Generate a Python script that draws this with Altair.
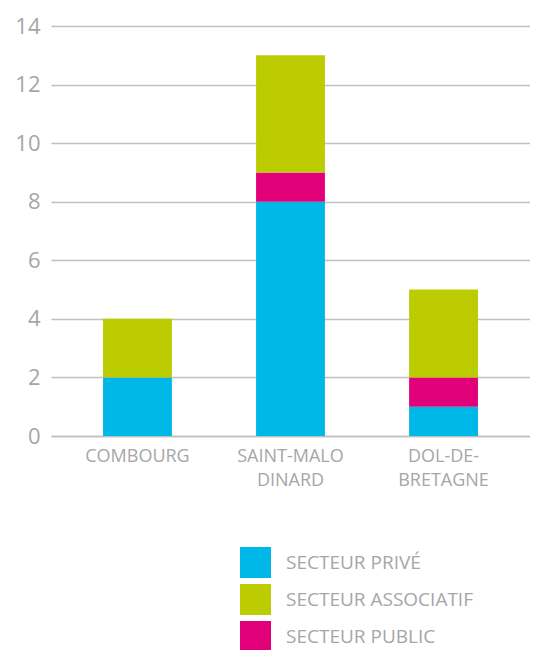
import altair as alt
import pandas as pd

categories = ["COMBOURG", "SAINT-MALO DINARD", "DOL-DE-BRETAGNE"]
prive = [2, 8, 1]
public = [0, 1, 1]
associatif = [2, 4, 3]

series = ["SECTEUR PRIVÉ", "SECTEUR ASSOCIATIF", "SECTEUR PUBLIC"]
colors = ["#00b8e8", "#bdcc00", "#e2007a"]
stack_order = {"SECTEUR PRIVÉ": 0, "SECTEUR PUBLIC": 1, "SECTEUR ASSOCIATIF": 2}

rows = []
for i, c in enumerate(categories):
    for s, vals in (("SECTEUR PRIVÉ", prive), ("SECTEUR PUBLIC", public), ("SECTEUR ASSOCIATIF", associatif)):
        rows.append({"lieu": c, "secteur": s, "valeur": vals[i], "ordre": stack_order[s]})
df = pd.DataFrame(rows)

FONT = "Open Sans"
GRAY = "#a6a6a6"

chart = alt.Chart(df).mark_bar().encode(
    x=alt.X("lieu:N", sort=categories, title=None,
            scale=alt.Scale(paddingInner=0.55, paddingOuter=0.34),
            axis=alt.Axis(labelAngle=0, labelFontSize=18, labelColor=GRAY, labelFont=FONT,
                          labelPadding=11, ticks=False, domainColor="#c0c0c0", domainWidth=1.5,
                          labelLineHeight=24,
                          labelExpr="datum.value == 'DOL-DE-BRETAGNE' ? ['DOL-DE-', 'BRETAGNE'] : split(datum.value, ' ')")),
    y=alt.Y("valeur:Q", stack="zero", title=None,
            scale=alt.Scale(domain=[0, 14], nice=False),
            axis=alt.Axis(values=[0, 2, 4, 6, 8, 10, 12, 14], labelFontSize=22, labelColor=GRAY,
                          labelFont=FONT, labelPadding=11, ticks=False, domain=False,
                          gridColor="#c0c0c0", gridWidth=1.5)),
    color=alt.Color("secteur:N", scale=alt.Scale(domain=series, range=colors),
                    legend=alt.Legend(title=None, orient="none", legendX=189, legendY=521,
                                      symbolType="square", symbolSize=961, symbolStrokeWidth=0,
                                      labelFontSize=19, labelColor=GRAY, labelFont=FONT,
                                      labelLimit=400, labelOffset=15, rowPadding=6, padding=0)),
    order=alt.Order("ordre:Q"),
).properties(
    width=479, height=410,
    autosize=alt.AutoSizeParams(type="none"),
    padding={"left": 43, "top": 18, "right": 0, "bottom": 214},
).configure_view(stroke=None)

chart.save("out.html", embed_options={"renderer": "svg", "actions": False})
